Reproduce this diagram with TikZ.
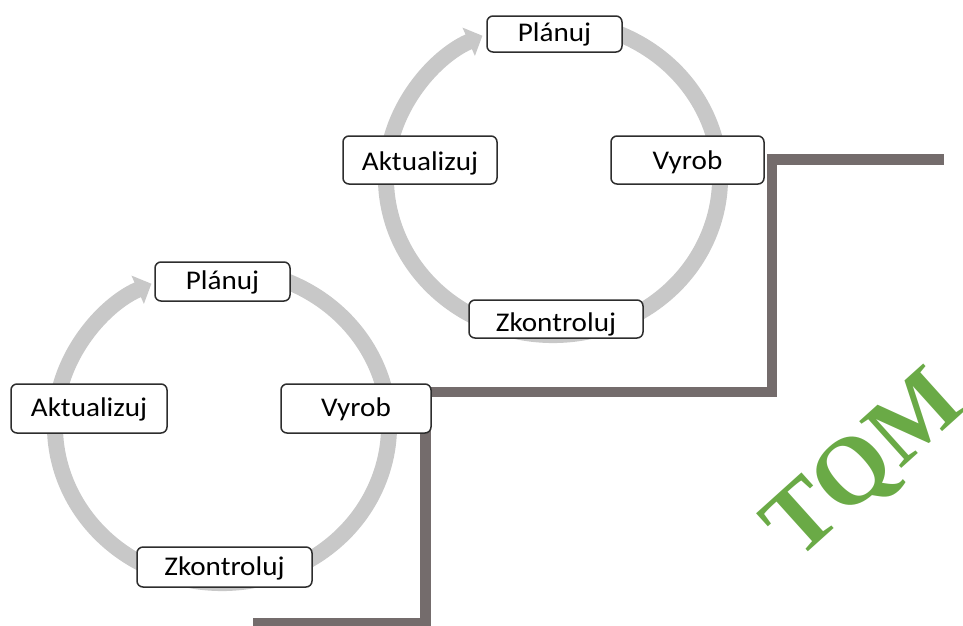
\documentclass[tikz,border=0pt]{standalone}
\usepackage{fontspec}
\usepackage{graphicx}
\setmainfont{Carlito}
\newfontfamily\tqmfont{Liberation Serif}
\usetikzlibrary{arrows.meta}
\definecolor{ringc}{RGB}{200,200,200}
\definecolor{boxc}{RGB}{45,45,45}
\definecolor{stairc}{RGB}{116,108,108}
\definecolor{tqmc}{RGB}{106,170,70}
\newcommand{\wtxt}[1]{\scalebox{1.08}[1]{#1}}
\begin{document}
\begin{tikzpicture}[x=1pt,y=-1pt,
  ring/.style={draw=ringc,line width=16pt,-{Triangle[width=30pt,length=15pt]}},
  cyc/.style={draw=boxc,fill=white,line width=1.5pt,rounded corners=6pt,inner sep=0pt,
    font=\fontsize{27}{30}\selectfont,text depth=0pt},
  tb/.style={text height=#1},
  stair/.style={draw=stairc,line width=10.7pt,line join=miter}]
\useasboundingbox (0,0) rectangle (963,625);
% rings
\draw[ring] (553,178) ++(-70:167 and 157) arc[start angle=-70,end angle=245,x radius=167,y radius=157];
\draw[ring] (222,426) ++(-70:167 and 157) arc[start angle=-70,end angle=245,x radius=167,y radius=157];
% staircase
\coordinate (s0) at (253,623.5);
\coordinate (s1) at (425.5,623.5);
\coordinate (s2) at (425.5,392);
\coordinate (s3) at (772,392);
\coordinate (s4) at (772,159.5);
\coordinate (s5) at (944,159.5);
\draw[stair] (s0) -- (s1) -- (s2) -- (s3) -- (s4) -- (s5);
% top cycle
\node[cyc,tb=14pt,minimum width=135pt,minimum height=36pt] (p1) at (554.5,34) {\wtxt{Plánuj}};
\node[cyc,tb=21pt,minimum width=154pt,minimum height=48pt] (a1) at (420,160) {\wtxt{Aktualizuj}};
\node[cyc,tb=19pt,minimum width=153pt,minimum height=48pt] (v1) at (687.5,160) {\wtxt{Vyrob}};
\node[cyc,tb=25pt,minimum width=174pt,minimum height=38pt] (z1) at (556,319) {\wtxt{Zkontroluj}};
% bottom cycle
\node[cyc,tb=16pt,minimum width=135pt,minimum height=39pt] (p2) at (222.5,281.5) {\wtxt{Plánuj}};
\node[cyc,tb=16pt,minimum width=156pt,minimum height=49pt] (a2) at (89,408.5) {\wtxt{Aktualizuj}};
\node[cyc,tb=16pt,minimum width=150pt,minimum height=49pt] (v2) at (356,408.5) {\wtxt{Vyrob}};
\node[cyc,tb=16pt,minimum width=175pt,minimum height=40pt] (z2) at (224.5,567) {\wtxt{Zkontroluj}};
% TQM
\node[anchor=base west,inner sep=0pt,rotate=42,text=tqmc,font=\tqmfont\bfseries\fontsize{96}{98}\selectfont] (tqm) at (797,562) {TQM};
\end{tikzpicture}
\end{document}
